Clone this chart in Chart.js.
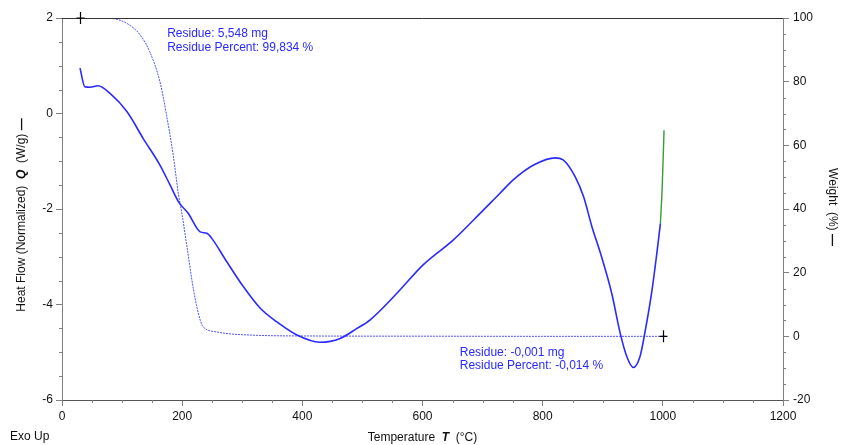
<!DOCTYPE html>
<html>
<head>
<meta charset="utf-8">
<script src="https://cdn.jsdelivr.net/npm/chart.js@4"></script>
<style>
  body { margin: 0; background: #fff; }
  canvas { display: block; }
</style>
</head>
<body>
<canvas id="tga" width="842" height="445"></canvas>
<script>
// heat flow (W/g) vs temperature (°C)
const heatFlowT = [30, 38, 47, 60, 80, 108, 135, 163, 180, 194, 210, 230, 241, 249, 274, 302, 330, 357, 391, 429, 463, 491, 513, 557, 601, 651, 685, 729, 751, 785, 821, 834, 854, 868, 882, 898, 915, 929, 940, 951, 962, 970, 982, 990, 996];
const heatFlow = [0.95, 0.56, 0.55, 0.58, 0.42, 0.04, -0.52, -1.08, -1.50, -1.85, -2.09, -2.48, -2.51, -2.61, -3.10, -3.63, -4.08, -4.36, -4.64, -4.79, -4.71, -4.50, -4.32, -3.77, -3.17, -2.65, -2.23, -1.67, -1.39, -1.08, -0.93, -0.97, -1.32, -1.74, -2.37, -3.00, -3.77, -4.60, -5.09, -5.32, -5.09, -4.60, -3.70, -2.93, -2.30];
// green tail at the end of the heat flow run
const tailT = [996, 999, 1002];
const tailHeatFlow = [-2.30, -1.53, -0.35];

// weight (%) vs temperature
const weightT = [30, 80, 108, 130, 146, 163, 174, 185, 194, 200, 208, 219, 230, 235, 257, 313, 424, 600, 800, 1000];
const weight = [100, 99.9, 98.3, 94.7, 89.4, 80, 69.5, 57, 44.4, 38.1, 28.1, 14.5, 5.1, 3.0, 1.4, 0.4, 0.1, 0.05, 0.0, 0.0];
const weightTailT = [1000, 1004];
const weightTail = [0, 0];

// residue markers: [T, weight]
const residueStart = [30, 100];
const residueEnd = [1000, 0];
const residueTop = ['Residue: 5,548 mg', 'Residue Percent: 99,834 %'];
const residueBottom = ['Residue: -0,001 mg', 'Residue Percent: -0,014 %'];

const pts = (xs, ys) => xs.map((x, i) => ({ x: x, y: ys[i] }));

const FONT = "'Liberation Sans', Arial, sans-serif";
const AXIS = '#808080';
const BLUE = '#2a2aff';

function drawRich(ctx, parts, x, y) {
    // parts: [text, fontString]; centred on x
    let total = 0;
    parts.forEach(p => { ctx.font = p[1]; total += ctx.measureText(p[0]).width; });
    let cx = x - total / 2;
    ctx.textAlign = 'left';
    parts.forEach(p => {
        ctx.font = p[1];
        ctx.fillText(p[0], cx, y);
        cx += ctx.measureText(p[0]).width;
    });
}

const decorations = {
    id: 'decorations',
    afterDraw(chart) {
        const ctx = chart.ctx;
        const a = chart.chartArea;
        const sx = chart.scales.x, sy = chart.scales.y, sw = chart.scales.y1;
        ctx.save();

        // top frame line
        ctx.strokeStyle = '#333';
        ctx.lineWidth = 1;
        ctx.beginPath();
        ctx.moveTo(a.left, a.top + 0.5);
        ctx.lineTo(a.right, a.top + 0.5);
        ctx.stroke();

        // minor ticks
        ctx.strokeStyle = AXIS;
        ctx.beginPath();
        for (let v = 0; v <= 1200; v += 50) {
            if (v % 200 === 0) continue;
            const px = Math.round(sx.getPixelForValue(v)) + 0.5;
            ctx.moveTo(px, a.bottom); ctx.lineTo(px, a.bottom + 3);
        }
        for (let v = -6; v <= 2; v += 0.5) {
            if (v % 2 === 0) continue;
            const py = Math.round(sy.getPixelForValue(v)) + 0.5;
            ctx.moveTo(a.left, py); ctx.lineTo(a.left - 3, py);
        }
        for (let v = -20; v <= 100; v += 5) {
            if (v % 20 === 0) continue;
            const py = Math.round(sw.getPixelForValue(v)) + 0.5;
            ctx.moveTo(a.right, py); ctx.lineTo(a.right + 3, py);
        }
        ctx.stroke();

        // residue markers
        ctx.strokeStyle = '#000';
        ctx.lineWidth = 1.2;
        [residueStart, residueEnd].forEach(r => {
            const px = Math.round(sx.getPixelForValue(r[0])) + 0.5;
            const py = sw.getPixelForValue(r[1]);
            ctx.beginPath();
            ctx.moveTo(px, py - 6); ctx.lineTo(px, py + 6);
            ctx.moveTo(px - 4, py); ctx.lineTo(px + 4, py);
            ctx.stroke();
        });

        // residue annotations
        ctx.fillStyle = BLUE;
        ctx.font = '12px ' + FONT;
        ctx.textAlign = 'left';
        ctx.textBaseline = 'top';
        let tx = sx.getPixelForValue(175), ty = sw.getPixelForValue(96.8);
        residueTop.forEach((s, i) => ctx.fillText(s, tx, ty + i * 13.5));
        tx = sx.getPixelForValue(662); ty = sw.getPixelForValue(-3.3);
        residueBottom.forEach((s, i) => ctx.fillText(s, tx, ty + i * 13));

        // axis titles
        ctx.fillStyle = '#111';
        ctx.textBaseline = 'alphabetic';
        const reg = '12px ' + FONT, bi = 'italic bold 12px ' + FONT;
        drawRich(ctx, [['Temperature  ', reg], ['T', bi], ['  (°C)', reg]], (a.left + a.right) / 2, 441);
        ctx.textAlign = 'left';
        ctx.font = reg;
        ctx.fillText('Exo Up', 10, 440);

        const midY = (a.top + a.bottom) / 2;
        ctx.save();
        ctx.translate(25, midY + 6);
        ctx.rotate(-Math.PI / 2);
        drawRich(ctx, [['Heat Flow (Normalized)  ', reg], ['Q', bi], ['  (W/g) ', reg], ['—', 'bold 12px ' + FONT]], 0, 0);
        ctx.restore();

        ctx.save();
        ctx.translate(829, midY - 2);
        ctx.rotate(Math.PI / 2);
        drawRich(ctx, [['Weight  (%) ', reg], ['—', 'bold 12px ' + FONT]], 0, 0);
        ctx.restore();

        ctx.restore();
    }
};

const tickFont = { family: FONT, size: 12 };
const plain = v => String(v);

new Chart(document.getElementById('tga'), {
    type: 'line',
    data: {
        datasets: [{
            data: pts(heatFlowT, heatFlow),
            borderColor: BLUE,
            borderWidth: 1.6,
            yAxisID: 'y'
        }, {
            data: pts(tailT, tailHeatFlow),
            borderColor: '#3a9a3a',
            borderWidth: 1.4,
            yAxisID: 'y'
        }, {
            data: pts(weightT, weight),
            borderColor: 'rgba(60,60,255,0.9)',
            borderWidth: 1,
            borderDash: [2, 1],
            yAxisID: 'y1'
        }, {
            data: pts(weightTailT, weightTail),
            borderColor: '#3a9a3a',
            borderWidth: 1.4,
            yAxisID: 'y1'
        }]
    },
    options: {
        responsive: false,
        animation: false,
        devicePixelRatio: 1,
        layout: { padding: { top: 18, left: 0, right: 0, bottom: 0 } },
        elements: {
            point: { radius: 0 },
            line: { cubicInterpolationMode: 'monotone' }
        },
        plugins: {
            legend: { display: false },
            tooltip: { enabled: false }
        },
        scales: {
            x: {
                type: 'linear',
                min: 0, max: 1200,
                ticks: { stepSize: 200, color: '#111', font: tickFont, padding: 3, maxRotation: 0, callback: plain },
                grid: { drawOnChartArea: false, tickLength: 6, color: AXIS },
                border: { color: '#555' },
                afterFit: s => { s.height = 45; }
            },
            y: {
                position: 'left',
                min: -6, max: 2,
                ticks: { stepSize: 2, color: '#111', font: tickFont, padding: 3, callback: plain },
                grid: { drawOnChartArea: false, tickLength: 6, color: AXIS },
                border: { color: AXIS },
                afterFit: s => { s.width = 62; }
            },
            y1: {
                position: 'right',
                min: -20, max: 100,
                ticks: { stepSize: 20, color: '#111', font: tickFont, padding: 4, callback: plain },
                grid: { drawOnChartArea: false, tickLength: 6, color: AXIS },
                border: { color: AXIS },
                afterFit: s => { s.width = 59; }
            }
        }
    },
    plugins: [decorations]
});
</script>
</body>
</html>
